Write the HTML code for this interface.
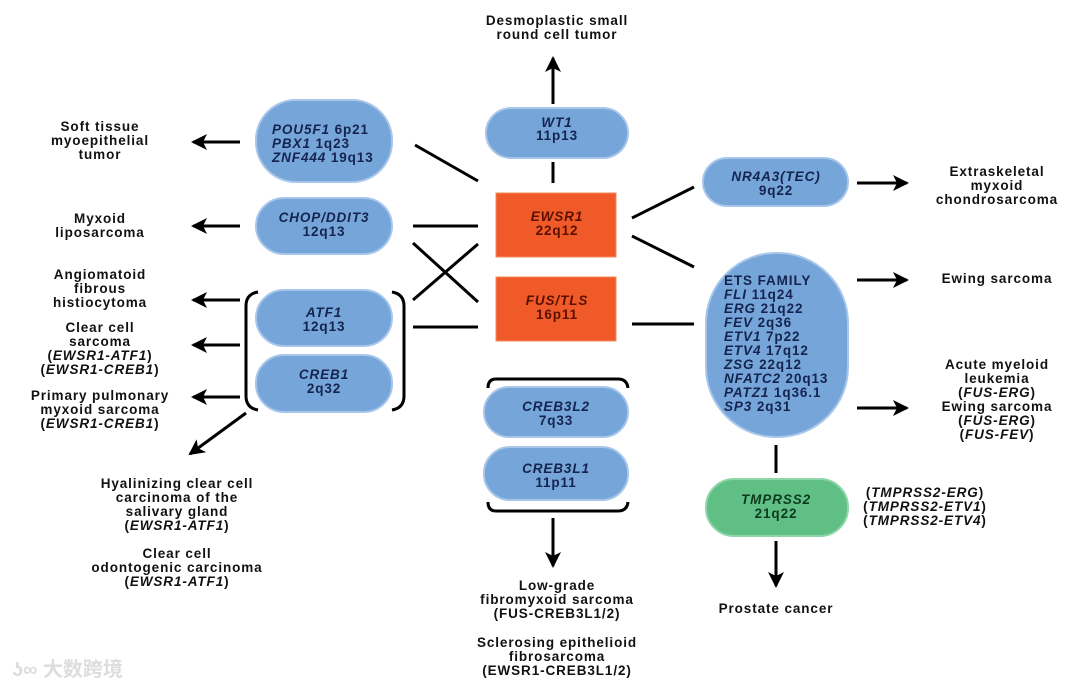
<!DOCTYPE html>
<html><head><meta charset="utf-8"><style>
html,body{margin:0;padding:0;background:#fff;}
svg{display:block}
text{font-family:"Liberation Sans",Arial,sans-serif;font-weight:bold;font-size:13.5px;letter-spacing:0.9px;fill:#111;text-anchor:middle}
.n{fill:#14244f}
.i{font-style:italic}
.wm{font-family:"Liberation Sans","Noto Sans CJK SC",sans-serif;fill:#ddd;font-size:20px;font-weight:bold;text-anchor:start;letter-spacing:0}
</style></head><body>
<svg width="1070" height="690" viewBox="0 0 1070 690" xmlns="http://www.w3.org/2000/svg">
<defs>
<marker id="a" markerWidth="18" markerHeight="16" refX="14" refY="8" orient="auto" markerUnits="userSpaceOnUse">
<path d="M0,0 L16,8 L0,16 L4,8 Z" fill="#000"/></marker>
</defs>
<g fill="#76a5d9" stroke="#a7c6ea" stroke-width="2">
<rect x="486" y="108" width="142" height="50" rx="25"/>
<rect x="256" y="100" width="136" height="82" rx="40"/>
<rect x="256" y="198" width="136" height="56" rx="28"/>
<rect x="256" y="290" width="136" height="56" rx="28"/>
<rect x="256" y="355" width="136" height="57" rx="28"/>
<rect x="703" y="158" width="145" height="48" rx="24"/>
<rect x="706" y="253" width="142" height="184" rx="70"/>
<rect x="484" y="387" width="144" height="50" rx="25"/>
<rect x="484" y="447" width="144" height="53" rx="26"/>
</g>
<rect x="706" y="479" width="142" height="57" rx="28" fill="#5fbf84" stroke="#8fd6aa" stroke-width="2"/>
<rect x="496" y="193" width="120" height="64" fill="#f05a28" stroke="#f58a5f"/>
<rect x="496" y="277" width="120" height="64" fill="#f05a28" stroke="#f58a5f"/>
<g stroke="#000" stroke-width="3" fill="none">
<line x1="553" y1="104" x2="553" y2="58" marker-end="url(#a)"/>
<line x1="553" y1="162" x2="553" y2="183"/>
<line x1="415" y1="145" x2="478" y2="181"/>
<line x1="413" y1="226" x2="478" y2="226"/>
<line x1="413" y1="243" x2="478" y2="302"/>
<line x1="413" y1="300" x2="478" y2="244"/>
<line x1="413" y1="327" x2="478" y2="327"/>
<line x1="632" y1="218" x2="694" y2="187"/>
<line x1="632" y1="236" x2="694" y2="267"/>
<line x1="632" y1="324" x2="694" y2="324"/>
<line x1="240" y1="142" x2="193" y2="142" marker-end="url(#a)"/>
<line x1="240" y1="226" x2="193" y2="226" marker-end="url(#a)"/>
<line x1="240" y1="300" x2="193" y2="300" marker-end="url(#a)"/>
<line x1="240" y1="345" x2="193" y2="345" marker-end="url(#a)"/>
<line x1="240" y1="397" x2="193" y2="397" marker-end="url(#a)"/>
<line x1="246" y1="413" x2="190" y2="454" marker-end="url(#a)"/>
<line x1="857" y1="183" x2="907" y2="183" marker-end="url(#a)"/>
<line x1="857" y1="280" x2="907" y2="280" marker-end="url(#a)"/>
<line x1="857" y1="408" x2="907" y2="408" marker-end="url(#a)"/>
<line x1="776" y1="445" x2="776" y2="473"/>
<line x1="776" y1="541" x2="776" y2="586" marker-end="url(#a)"/>
<line x1="553" y1="518" x2="553" y2="566" marker-end="url(#a)"/>
<path d="M258,292 Q246,294 246,306 L246,396 Q246,408 258,410"/>
<path d="M392,292 Q404,294 404,306 L404,396 Q404,408 392,410"/>
<path d="M488,388 Q488,379 496,379 L618,379 Q627,379 628,388"/>
<path d="M488,502 Q488,511 496,511 L618,511 Q627,511 628,502"/>
</g>
<text x="557" y="127" class="n i">WT1</text><text x="557" y="140" class="n">11p13</text>
<text x="557" y="221" class="i" style="fill:#5a1000">EWSR1</text><text x="557" y="235" style="fill:#5a1000">22q12</text>
<text x="557" y="305" class="i" style="fill:#5a1000">FUS/TLS</text><text x="557" y="319" style="fill:#5a1000">16p11</text>
<text x="272" y="134" class="n" style="text-anchor:start"><tspan class="i">POU5F1</tspan> 6p21</text>
<text x="272" y="148" class="n" style="text-anchor:start"><tspan class="i">PBX1</tspan> 1q23</text>
<text x="272" y="162" class="n" style="text-anchor:start"><tspan class="i">ZNF444</tspan> 19q13</text>
<text x="324" y="222" class="n i">CHOP/DDIT3</text><text x="324" y="236" class="n">12q13</text>
<text x="324" y="317" class="n i">ATF1</text><text x="324" y="331" class="n">12q13</text>
<text x="324" y="379" class="n i">CREB1</text><text x="324" y="393" class="n">2q32</text>
<text x="776" y="181" class="n i">NR4A3(TEC)</text><text x="776" y="195" class="n">9q22</text>
<text x="724" y="285" class="n" style="text-anchor:start">ETS FAMILY</text>
<text x="724" y="299" class="n" style="text-anchor:start"><tspan class="i">FLI</tspan> 11q24</text>
<text x="724" y="313" class="n" style="text-anchor:start"><tspan class="i">ERG</tspan> 21q22</text>
<text x="724" y="327" class="n" style="text-anchor:start"><tspan class="i">FEV</tspan> 2q36</text>
<text x="724" y="341" class="n" style="text-anchor:start"><tspan class="i">ETV1</tspan> 7p22</text>
<text x="724" y="355" class="n" style="text-anchor:start"><tspan class="i">ETV4</tspan> 17q12</text>
<text x="724" y="369" class="n" style="text-anchor:start"><tspan class="i">ZSG</tspan> 22q12</text>
<text x="724" y="383" class="n" style="text-anchor:start"><tspan class="i">NFATC2</tspan> 20q13</text>
<text x="724" y="397" class="n" style="text-anchor:start"><tspan class="i">PATZ1</tspan> 1q36.1</text>
<text x="724" y="411" class="n" style="text-anchor:start"><tspan class="i">SP3</tspan> 2q31</text>
<text x="776" y="504" class="i" style="fill:#0d3a1f">TMPRSS2</text><text x="776" y="518" style="fill:#0d3a1f">21q22</text>
<text x="556" y="411" class="n i">CREB3L2</text><text x="556" y="425" class="n">7q33</text>
<text x="556" y="473" class="n i">CREB3L1</text><text x="556" y="487" class="n">11p11</text>
<text x="557" y="25">Desmoplastic small</text><text x="557" y="39">round cell tumor</text>
<text x="100" y="131">Soft tissue</text><text x="100" y="145">myoepithelial</text><text x="100" y="159">tumor</text>
<text x="100" y="223">Myxoid</text><text x="100" y="237">liposarcoma</text>
<text x="100" y="279">Angiomatoid</text><text x="100" y="293">fibrous</text><text x="100" y="307">histiocytoma</text>
<text x="100" y="332">Clear cell</text><text x="100" y="346">sarcoma</text>
<text x="100" y="360">(<tspan class="i">EWSR1-ATF1</tspan>)</text><text x="100" y="374">(<tspan class="i">EWSR1-CREB1</tspan>)</text>
<text x="100" y="400">Primary pulmonary</text><text x="100" y="414">myxoid sarcoma</text><text x="100" y="428">(<tspan class="i">EWSR1-CREB1</tspan>)</text>
<text x="177" y="488">Hyalinizing clear cell</text><text x="177" y="502">carcinoma of the</text><text x="177" y="516">salivary gland</text><text x="177" y="530">(<tspan class="i">EWSR1-ATF1</tspan>)</text>
<text x="177" y="558">Clear cell</text><text x="177" y="572">odontogenic carcinoma</text><text x="177" y="586">(<tspan class="i">EWSR1-ATF1</tspan>)</text>
<text x="997" y="176">Extraskeletal</text><text x="997" y="190">myxoid</text><text x="997" y="204">chondrosarcoma</text>
<text x="997" y="283">Ewing sarcoma</text>
<text x="997" y="369">Acute myeloid</text><text x="997" y="383">leukemia</text><text x="997" y="397">(<tspan class="i">FUS-ERG</tspan>)</text>
<text x="997" y="411">Ewing sarcoma</text><text x="997" y="425">(<tspan class="i">FUS-ERG</tspan>)</text><text x="997" y="439">(<tspan class="i">FUS-FEV</tspan>)</text>
<text x="925" y="497">(<tspan class="i">TMPRSS2-ERG</tspan>)</text><text x="925" y="511">(<tspan class="i">TMPRSS2-ETV1</tspan>)</text><text x="925" y="525">(<tspan class="i">TMPRSS2-ETV4</tspan>)</text>
<text x="776" y="613">Prostate cancer</text>
<text x="557" y="590">Low-grade</text><text x="557" y="604">fibromyxoid sarcoma</text><text x="557" y="618">(FUS-CREB3L1/2)</text>
<text x="557" y="647">Sclerosing epithelioid</text><text x="557" y="661">fibrosarcoma</text><text x="557" y="675">(EWSR1-CREB3L1/2)</text>
<text x="12" y="676" class="wm">ʖ∞ 大数跨境</text>
</svg>
</body></html>
